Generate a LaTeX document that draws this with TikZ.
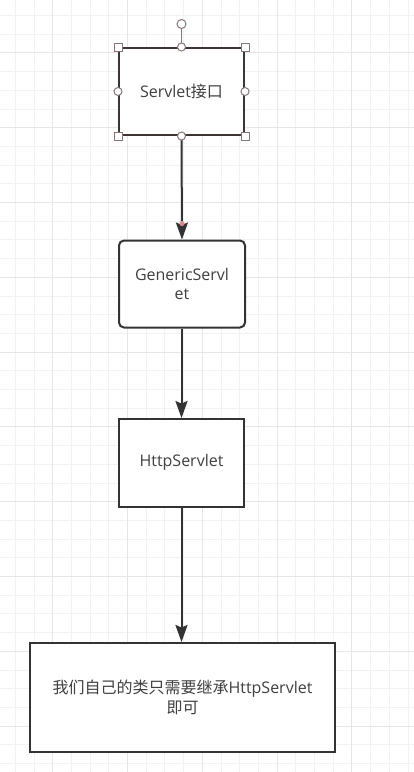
\documentclass[tikz,border=0pt]{standalone}
\usepackage{fontspec}
\setmainfont{Open Sans}
\newfontfamily\cjk{Noto Sans CJK SC}
\usetikzlibrary{arrows.meta}
\definecolor{gridminor}{HTML}{F2F2F2}
\definecolor{gridmajor}{HTML}{E6E6E6}
\definecolor{boxline}{HTML}{333333}
\definecolor{selline}{HTML}{3D3434}
\definecolor{handle}{HTML}{8A7676}
\definecolor{txt}{HTML}{404040}
\definecolor{tipdot}{HTML}{D98C8C}
\tikzset{
  gridmin/.style={draw=gridminor, line width=1pt},
  gridmaj/.style={draw=gridmajor, line width=1pt},
  boxstyle/.style={draw=boxline, line width=2pt, fill=white, inner sep=0pt,
    text=txt, align=center, font=\fontsize{16}{19.5}\selectfont},
  conn/.style={draw=boxline, line width=2pt,
    -{Stealth[length=17pt, width=12pt, inset=2.5pt]}},
  sqhandle/.style={draw=handle, fill=white, line width=1pt, minimum size=8pt,
    inner sep=0pt, rectangle},
  cirhandle/.style={draw=handle, fill=white, line width=1pt, minimum size=8pt,
    inner sep=0pt, circle},
}
\begin{document}
\begin{tikzpicture}[x=1pt,y=-1pt]
\fill[white] (0,0) rectangle (414,772);
\useasboundingbox (0,0) rectangle (414,772);
% grid
\foreach \i in {0,...,21} {
  \pgfmathsetmacro\xx{15.3+18.7*\i}
  \draw[gridmin] (\xx,0) -- (\xx,772);
}
\foreach \i in {0,...,40} {
  \pgfmathsetmacro\yy{15.5+18.7*\i}
  \draw[gridmin] (0,\yy) -- (414,\yy);
}
\foreach \i in {0,...,4} {
  \pgfmathsetmacro\xx{52.7+74.8*\i}
  \draw[gridmaj] (\xx,0) -- (\xx,772);
}
\foreach \i in {0,...,9} {
  \pgfmathsetmacro\yy{52.9+74.8*\i}
  \draw[gridmaj] (0,\yy) -- (414,\yy);
}
% boxes
\node[boxstyle, draw=selline, minimum width=125pt, minimum height=87pt] (b1) at (181.5,91.5) {Servlet{\cjk 接口}};
\node[boxstyle, rounded corners=5pt, minimum width=126pt, minimum height=87pt] (b2) at (182,284) {GenericServl\\et};
\node[boxstyle, minimum width=125pt, minimum height=87.5pt] (b3) at (181.5,462.8) {HttpServlet};
\node[boxstyle, minimum width=305pt, minimum height=109pt] (b4) at (182.5,697.5) {{\cjk 我们自己的类只需要继承}HttpServlet\\{\cjk 即可}};
% connectors
\draw[conn] (b1.south) -- (b2.north);
\draw[conn] (b3.north |- b2.south) -- (b3.north);
\draw[conn] (b3.south) -- (b3.south |- b4.north);
\fill[tipdot] ([yshift=16pt]b2.north) circle (2.6pt);
% selection handles
\node[cirhandle, minimum size=9pt] (rot) at (181.5,24) {};
\draw[handle, line width=1pt] (rot.south) -- (b1.north);
\node[sqhandle] (h1) at (b1.north west) {};
\node[sqhandle] (h2) at (b1.north east) {};
\node[sqhandle] (h3) at (b1.south west) {};
\node[sqhandle] (h4) at (b1.south east) {};
\node[cirhandle] (h5) at (b1.north) {};
\node[cirhandle] (h6) at (b1.south) {};
\node[cirhandle] (h7) at (b1.west) {};
\node[cirhandle] (h8) at (b1.east) {};
\end{tikzpicture}
\end{document}
